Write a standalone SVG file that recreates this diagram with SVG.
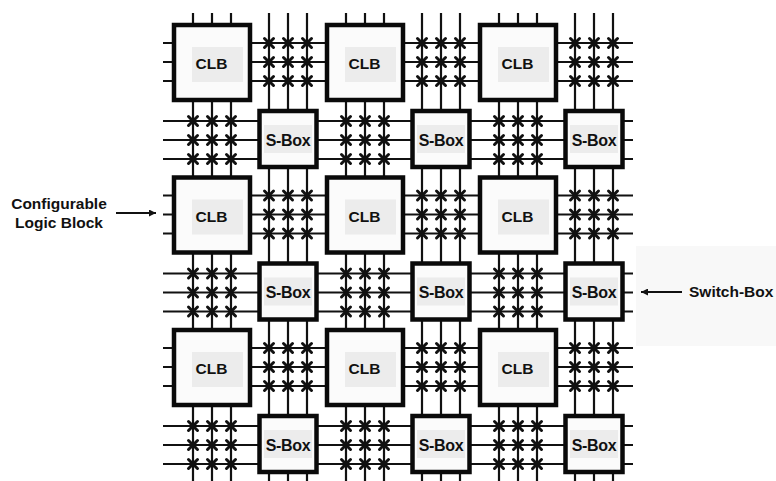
<svg xmlns="http://www.w3.org/2000/svg" xmlns:xlink="http://www.w3.org/1999/xlink" width="776" height="481" viewBox="0 0 776 481">
  <style>
    .w{stroke:#111;stroke-width:2.2;fill:none}
    .xm{stroke:#111;stroke-width:3;fill:none;stroke-linecap:round}
    .clb{fill:#fbfbfb;stroke:#0a0a0a;stroke-width:4.5}
    .sb{fill:#fbfbfb;stroke:#0a0a0a;stroke-width:4.5}
    .bg{fill:#ececec}
    .lbl{font-family:"Liberation Sans",Arial,sans-serif;font-weight:bold;font-size:15.5px;fill:#111}
    .lbs{font-family:"Liberation Sans",Arial,sans-serif;font-weight:bold;font-size:16px;fill:#111;letter-spacing:-0.3px}
    .cap{font-family:"Liberation Sans",Arial,sans-serif;font-weight:bold;font-size:15.5px;fill:#111}
    .arr{stroke:#111;stroke-width:2;fill:none}
  </style>
  <defs>
    <marker id="ah" viewBox="0 0 10 10" refX="10" refY="5" markerWidth="8" markerHeight="7" markerUnits="userSpaceOnUse" orient="auto">
      <path d="M0,0L10,5L0,10z" fill="#111"/>
    </marker>
    <path id="x" class="xm" d="M-4.5,-4.5L4.5,4.5M-4.5,4.5L4.5,-4.5"/>
    <g id="blk">
      <use xlink:href="#x" x="-19" y="-19"/><use xlink:href="#x" x="0" y="-19"/><use xlink:href="#x" x="19" y="-19"/>
      <use xlink:href="#x" x="-19" y="0"/><use xlink:href="#x" x="0" y="0"/><use xlink:href="#x" x="19" y="0"/>
      <use xlink:href="#x" x="-19" y="19"/><use xlink:href="#x" x="0" y="19"/><use xlink:href="#x" x="19" y="19"/>
    </g>
  </defs>
  <rect width="776" height="481" fill="#ffffff"/>
  <rect x="636" y="246" width="140" height="100" fill="#f8f8f8"/>

  <g id="connectors">
    <g class="w">
      <line x1="193" y1="13" x2="193" y2="481"/><line x1="212" y1="13" x2="212" y2="481"/><line x1="231" y1="13" x2="231" y2="481"/>
      <line x1="269" y1="13" x2="269" y2="481"/><line x1="288" y1="13" x2="288" y2="481"/><line x1="307" y1="13" x2="307" y2="481"/>
      <line x1="346" y1="13" x2="346" y2="481"/><line x1="365" y1="13" x2="365" y2="481"/><line x1="384" y1="13" x2="384" y2="481"/>
      <line x1="422" y1="13" x2="422" y2="481"/><line x1="441" y1="13" x2="441" y2="481"/><line x1="460" y1="13" x2="460" y2="481"/>
      <line x1="499" y1="13" x2="499" y2="481"/><line x1="518" y1="13" x2="518" y2="481"/><line x1="537" y1="13" x2="537" y2="481"/>
      <line x1="575" y1="13" x2="575" y2="481"/><line x1="594" y1="13" x2="594" y2="481"/><line x1="613" y1="13" x2="613" y2="481"/>
    </g>
    <g class="w">
      <line x1="163" y1="43" x2="633" y2="43"/><line x1="163" y1="62" x2="633" y2="62"/><line x1="163" y1="81" x2="633" y2="81"/>
      <line x1="163" y1="121" x2="633" y2="121"/><line x1="163" y1="140" x2="633" y2="140"/><line x1="163" y1="159" x2="633" y2="159"/>
      <line x1="163" y1="195.5" x2="633" y2="195.5"/><line x1="163" y1="214.5" x2="633" y2="214.5"/><line x1="163" y1="233.5" x2="633" y2="233.5"/>
      <line x1="163" y1="273.5" x2="633" y2="273.5"/><line x1="163" y1="292.5" x2="633" y2="292.5"/><line x1="163" y1="311.5" x2="633" y2="311.5"/>
      <line x1="163" y1="348" x2="633" y2="348"/><line x1="163" y1="367" x2="633" y2="367"/><line x1="163" y1="386" x2="633" y2="386"/>
      <line x1="163" y1="426" x2="633" y2="426"/><line x1="163" y1="445" x2="633" y2="445"/><line x1="163" y1="464" x2="633" y2="464"/>
    </g>
    <use xlink:href="#blk" x="288" y="62"/><use xlink:href="#blk" x="441" y="62"/><use xlink:href="#blk" x="594" y="62"/>
    <use xlink:href="#blk" x="288" y="214.5"/><use xlink:href="#blk" x="441" y="214.5"/><use xlink:href="#blk" x="594" y="214.5"/>
    <use xlink:href="#blk" x="288" y="367"/><use xlink:href="#blk" x="441" y="367"/><use xlink:href="#blk" x="594" y="367"/>
    <use xlink:href="#blk" x="212" y="140"/><use xlink:href="#blk" x="365" y="140"/><use xlink:href="#blk" x="518" y="140"/>
    <use xlink:href="#blk" x="212" y="292.5"/><use xlink:href="#blk" x="365" y="292.5"/><use xlink:href="#blk" x="518" y="292.5"/>
    <use xlink:href="#blk" x="212" y="445"/><use xlink:href="#blk" x="365" y="445"/><use xlink:href="#blk" x="518" y="445"/>
    <line class="arr" x1="116" y1="213" x2="156" y2="213" marker-end="url(#ah)"/>
    <line class="arr" x1="682" y1="292" x2="641" y2="292" marker-end="url(#ah)"/>
  </g>

  <g id="clb-1-1"><rect class="clb" x="174" y="25" width="76" height="75"/><rect class="bg" x="192" y="47" width="51" height="35"/><text class="lbl" x="211.5" y="69" text-anchor="middle">CLB</text></g>
  <g id="clb-1-2"><rect class="clb" x="327" y="25" width="76" height="75"/><rect class="bg" x="345" y="47" width="51" height="35"/><text class="lbl" x="364.5" y="69" text-anchor="middle">CLB</text></g>
  <g id="clb-1-3"><rect class="clb" x="480" y="25" width="76" height="75"/><rect class="bg" x="498" y="47" width="51" height="35"/><text class="lbl" x="517.5" y="69" text-anchor="middle">CLB</text></g>
  <g id="clb-2-1"><rect class="clb" x="174" y="177.5" width="76" height="75"/><rect class="bg" x="192" y="199.5" width="51" height="35"/><text class="lbl" x="211.5" y="221.5" text-anchor="middle">CLB</text></g>
  <g id="clb-2-2"><rect class="clb" x="327" y="177.5" width="76" height="75"/><rect class="bg" x="345" y="199.5" width="51" height="35"/><text class="lbl" x="364.5" y="221.5" text-anchor="middle">CLB</text></g>
  <g id="clb-2-3"><rect class="clb" x="480" y="177.5" width="76" height="75"/><rect class="bg" x="498" y="199.5" width="51" height="35"/><text class="lbl" x="517.5" y="221.5" text-anchor="middle">CLB</text></g>
  <g id="clb-3-1"><rect class="clb" x="174" y="330" width="76" height="75"/><rect class="bg" x="192" y="352" width="51" height="35"/><text class="lbl" x="211.5" y="374" text-anchor="middle">CLB</text></g>
  <g id="clb-3-2"><rect class="clb" x="327" y="330" width="76" height="75"/><rect class="bg" x="345" y="352" width="51" height="35"/><text class="lbl" x="364.5" y="374" text-anchor="middle">CLB</text></g>
  <g id="clb-3-3"><rect class="clb" x="480" y="330" width="76" height="75"/><rect class="bg" x="498" y="352" width="51" height="35"/><text class="lbl" x="517.5" y="374" text-anchor="middle">CLB</text></g>

  <g id="sbox-1-1"><rect class="sb" x="259.5" y="111" width="57" height="56"/><rect class="bg" x="264" y="125" width="48" height="28"/><text class="lbs" x="288" y="145.5" text-anchor="middle">S-Box</text></g>
  <g id="sbox-1-2"><rect class="sb" x="412.5" y="111" width="57" height="56"/><rect class="bg" x="417" y="125" width="48" height="28"/><text class="lbs" x="441" y="145.5" text-anchor="middle">S-Box</text></g>
  <g id="sbox-1-3"><rect class="sb" x="565.5" y="111" width="57" height="56"/><rect class="bg" x="570" y="125" width="48" height="28"/><text class="lbs" x="594" y="145.5" text-anchor="middle">S-Box</text></g>
  <g id="sbox-2-1"><rect class="sb" x="259.5" y="263.5" width="57" height="56"/><rect class="bg" x="264" y="277.5" width="48" height="28"/><text class="lbs" x="288" y="298" text-anchor="middle">S-Box</text></g>
  <g id="sbox-2-2"><rect class="sb" x="412.5" y="263.5" width="57" height="56"/><rect class="bg" x="417" y="277.5" width="48" height="28"/><text class="lbs" x="441" y="298" text-anchor="middle">S-Box</text></g>
  <g id="sbox-2-3"><rect class="sb" x="565.5" y="263.5" width="57" height="56"/><rect class="bg" x="570" y="277.5" width="48" height="28"/><text class="lbs" x="594" y="298" text-anchor="middle">S-Box</text></g>
  <g id="sbox-3-1"><rect class="sb" x="259.5" y="416" width="57" height="56"/><rect class="bg" x="264" y="430" width="48" height="28"/><text class="lbs" x="288" y="450.5" text-anchor="middle">S-Box</text></g>
  <g id="sbox-3-2"><rect class="sb" x="412.5" y="416" width="57" height="56"/><rect class="bg" x="417" y="430" width="48" height="28"/><text class="lbs" x="441" y="450.5" text-anchor="middle">S-Box</text></g>
  <g id="sbox-3-3"><rect class="sb" x="565.5" y="416" width="57" height="56"/><rect class="bg" x="570" y="430" width="48" height="28"/><text class="lbs" x="594" y="450.5" text-anchor="middle">S-Box</text></g>

  <g id="label-clb">
    <text class="cap" x="59" y="209" text-anchor="middle">Configurable</text>
    <text class="cap" x="59" y="228" text-anchor="middle">Logic Block</text>
  </g>
  <g id="label-sbox">
    <text class="cap" x="689" y="297">Switch-Box</text>
  </g>
</svg>
